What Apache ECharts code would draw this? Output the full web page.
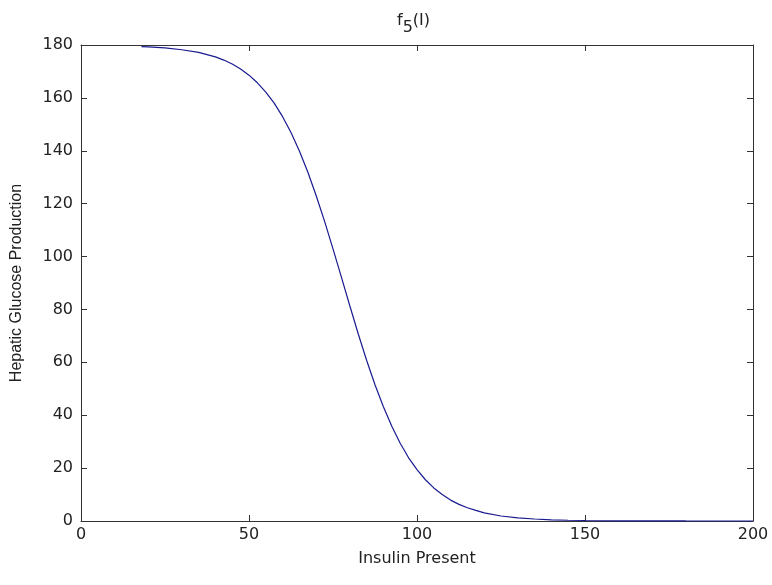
<!DOCTYPE html>
<html>
<head>
<meta charset="utf-8">
<script src="https://cdn.jsdelivr.net/npm/echarts@6/dist/echarts.min.js"></script>
<style>
html,body{margin:0;padding:0;background:#fff;}
#c{width:772px;height:585px;}
</style>
</head>
<body>
<div id="c"></div>
<script>
// Insulin present (x) and hepatic glucose production (y)
var insulin = [18, 20, 25, 30, 35, 40, 42.5, 45, 47.5, 50, 52.5, 55, 57.5, 60, 62.5, 65, 67.5, 70, 72.5, 75, 77.5, 80, 82.5, 85, 87.5, 90, 92.5, 95, 97.5, 100, 102.5, 105, 107.5, 110, 112.5, 115, 117.5, 120, 125, 130, 135, 140, 145, 150, 160, 170, 180, 190, 200];
var production = [179.4, 179.3, 178.9, 178.2, 177.2, 175.5, 174.3, 172.8, 170.9, 168.6, 165.7, 162.2, 158.0, 152.9, 146.9, 139.9, 132.0, 123.0, 113.3, 102.9, 92.2, 81.4, 70.8, 60.8, 51.5, 43.2, 35.8, 29.4, 23.9, 19.4, 15.6, 12.5, 10.0, 7.9, 6.3, 5.0, 4.0, 3.1, 1.9, 1.2, 0.75, 0.46, 0.29, 0.18, 0.07, 0.03, 0.01, 0.0, 0.0];
var xTicks = [0, 50, 100, 150, 200];
var yTicks = [0, 20, 40, 60, 80, 100, 120, 140, 160, 180];

var pts = insulin.map(function (x, i) { return [x, production[i]]; });
var axisColor = '#333333';
var textColor = '#222222';
var font = 'DejaVu Sans';

function frameAxis(extra) {
  var base = {
    axisLine: { show: true, onZero: false, lineStyle: { color: axisColor, width: 1 } },
    axisTick: { show: true, inside: true, length: 6, lineStyle: { color: axisColor } },
    splitLine: { show: false }
  };
  for (var k in extra) base[k] = extra[k];
  return base;
}

var chart = echarts.init(document.getElementById('c'));
chart.setOption({
  animation: false,
  backgroundColor: '#ffffff',
  title: {
    text: '{a|f}{b|5}{a|(I)}',
    left: 392,
    top: 8,
    textStyle: {
      fontWeight: 'normal',
      rich: {
        a: { fontFamily: font, fontSize: 16, fontWeight: 'normal', color: textColor, lineHeight: 20, verticalAlign: 'top' },
        b: { fontFamily: font, fontSize: 16, fontWeight: 'normal', color: textColor, lineHeight: 20, verticalAlign: 'top', padding: [7, 0, 0, 0] }
      }
    }
  },
  grid: { left: 81, right: 19, top: 45, bottom: 64, containLabel: false },
  xAxis: [
    frameAxis({
      type: 'value', position: 'bottom', min: xTicks[0], max: xTicks[xTicks.length - 1], interval: 50,
      name: 'Insulin Present', nameLocation: 'middle', nameGap: 30,
      nameTextStyle: { fontFamily: font, fontSize: 16, color: textColor },
      axisLabel: { fontFamily: font, fontSize: 16, color: textColor, margin: 6 }
    }),
    frameAxis({
      type: 'value', position: 'top', min: xTicks[0], max: xTicks[xTicks.length - 1], interval: 50,
      axisLabel: { show: false }
    })
  ],
  yAxis: [
    frameAxis({
      type: 'value', position: 'left', min: yTicks[0], max: yTicks[yTicks.length - 1], interval: 20,
      name: 'Hepatic Glucose Production', nameLocation: 'middle', nameGap: 56,
      nameTextStyle: { fontFamily: 'Liberation Sans', fontSize: 16, color: textColor },
      axisLabel: { fontFamily: font, fontSize: 16, color: textColor, margin: 8 }
    }),
    frameAxis({
      type: 'value', position: 'right', min: yTicks[0], max: yTicks[yTicks.length - 1], interval: 20,
      axisLabel: { show: false }
    })
  ],
  series: [{
    type: 'line',
    data: pts,
    xAxisIndex: 0, yAxisIndex: 0,
    showSymbol: false,
    smooth: false,
    clip: false,
    lineStyle: { color: '#1a1a90', width: 1.2 }
  }]
});
</script>
</body>
</html>
